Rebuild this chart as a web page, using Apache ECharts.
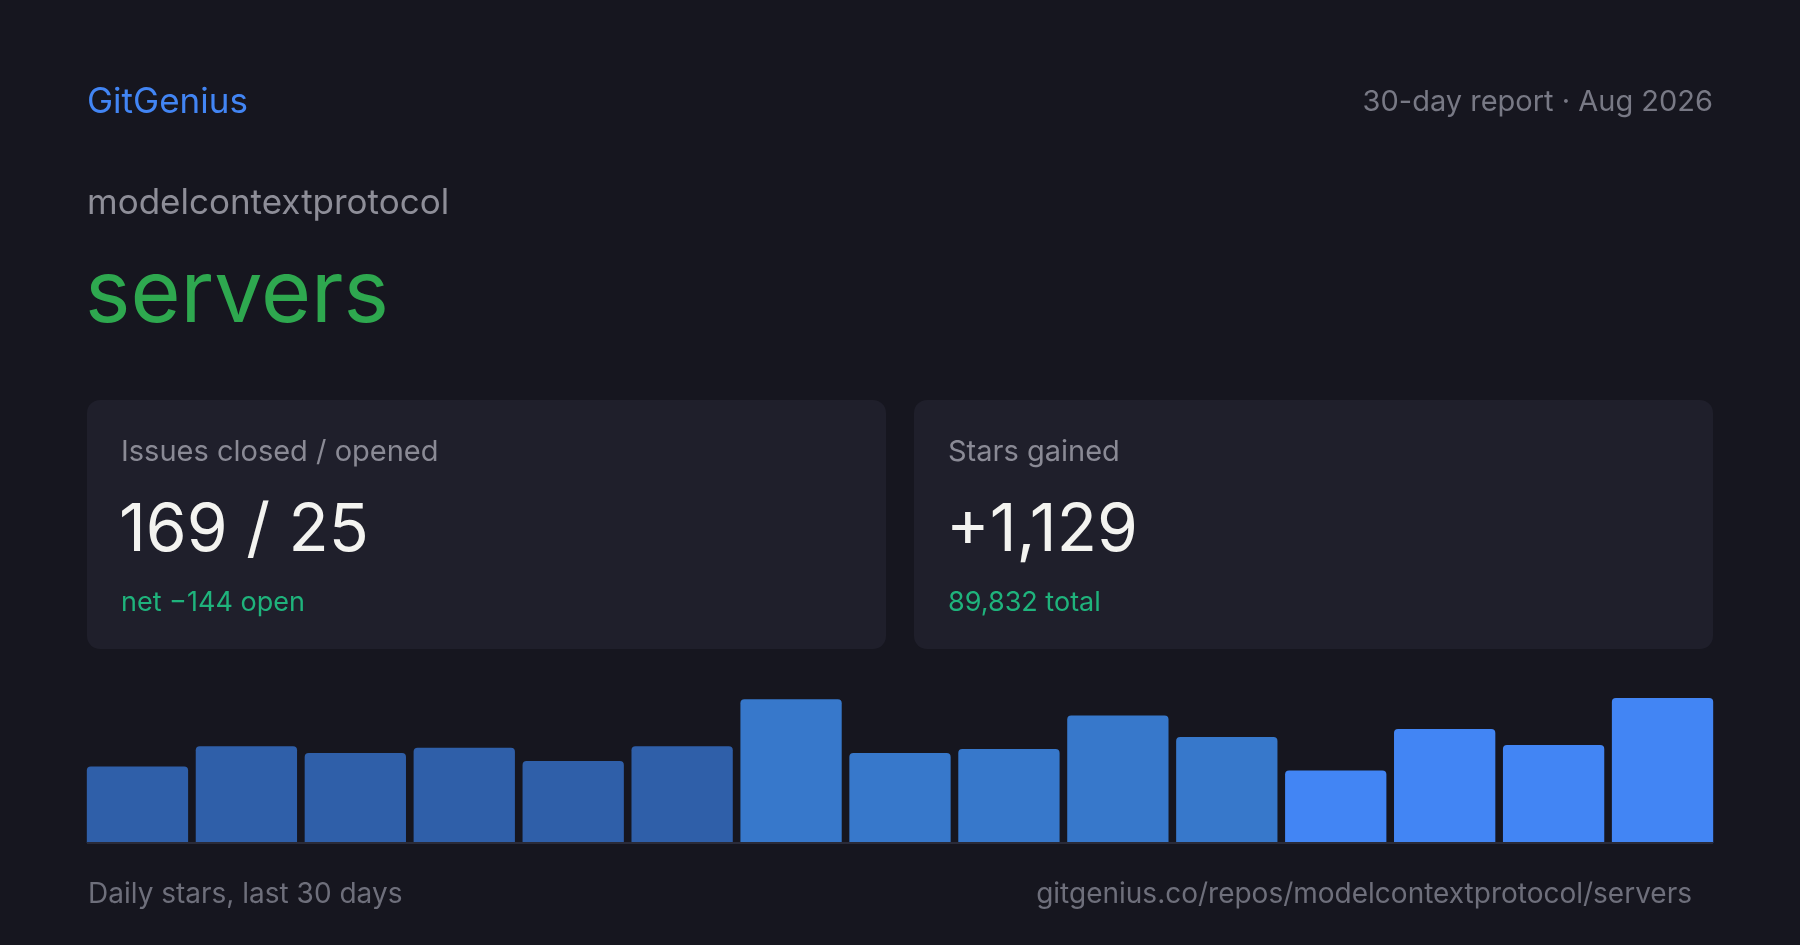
<!DOCTYPE html>
<html>
<head>
<meta charset="utf-8">
<script src="https://cdn.jsdelivr.net/npm/echarts@6/dist/echarts.min.js"></script>
<style>
  html, body { margin: 0; padding: 0; background: #16161f; }
  #chart { width: 1800px; height: 945px; }
</style>
</head>
<body>
<div id="chart"></div>
<script>
// ---- data ----
const categories = ['1','2','3','4','5','6','7','8','9','10','11','12','13','14','15'];
const starValues = [57, 72, 67, 71, 61, 72, 107, 67, 70, 95, 79, 54, 85, 73, 108];
const brandText = 'GitGenius';
const periodText = '30-day report · Aug 2026';
const ownerText = 'modelcontextprotocol';
const repoText = 'servers';
const issuesLabel = 'Issues closed / opened';
const issuesValue = '169 / 25';
const issuesSub = 'net −144 open';
const starsLabel = 'Stars gained';
const starsValue = '+1,129';
const starsSub = '89,832 total';
const footerLeft = 'Daily stars, last 30 days';
const footerRight = 'gitgenius.co/repos/modelcontextprotocol/servers';

// ---- style ----
const FONT = 'Inter, "Noto Sans", sans-serif';
const toneColors = ['#2f5fa9', '#3778cb', '#4285f4'];
function toneFor(i) { return i < 6 ? toneColors[0] : (i < 11 ? toneColors[1] : toneColors[2]); }

const chart = echarts.init(document.getElementById('chart'), null, { renderer: 'canvas' });

function txt(x, y, text, size, color, align, weight) {
  return {
    type: 'text', x: x, y: y,
    style: { text: text, fill: color, fontSize: size, fontFamily: FONT,
             fontWeight: weight || 400, align: align || 'left', verticalAlign: 'middle' }
  };
}
function card(x, y, w, h) {
  return { type: 'rect', shape: { x: x, y: y, width: w, height: h, r: 13 },
           style: { fill: '#1f1f2b' }, z: 0 };
}

chart.setOption({
  backgroundColor: '#16161f',
  animation: false,
  grid: { left: 83, right: 83, top: 698, bottom: 102 },
  xAxis: {
    type: 'category', data: categories,
    axisLine: { show: false },
    axisTick: { show: false }, axisLabel: { show: false }
  },
  yAxis: {
    type: 'value', min: 0, max: Math.max(...starValues),
    show: false, splitLine: { show: false }
  },
  series: [{
    type: 'bar',
    data: starValues.map((v, i) => ({ value: v, itemStyle: { color: toneFor(i) } })),
    barCategoryGap: '7%',
    itemStyle: { borderRadius: [4, 4, 0, 0] },
    z: 2
  }],
  graphic: [
    card(87, 400, 799, 249),
    card(914, 400, 799, 249),
    { type: 'rect', shape: { x: 87, y: 842, width: 1626, height: 2 }, style: { fill: '#2a2b39' }, z: 10 },
    txt(87, 102, brandText, 35, '#4285f4'),
    txt(1713, 102, periodText, 29, '#787985', 'right'),
    txt(87, 203, ownerText, 35, '#8e8e98'),
    txt(85, 296, repoText, 86, '#2ea84f'),
    txt(121, 452, issuesLabel, 29, '#8a8a95'),
    txt(119, 531, issuesValue, 66, '#f3f3f0'),
    txt(121, 603, issuesSub, 27, '#1fb37c'),
    txt(948, 452, starsLabel, 29, '#8a8a95'),
    txt(946, 531, starsValue, 66, '#f3f3f0'),
    txt(948, 603, starsSub, 27, '#1fb37c'),
    txt(88, 895, footerLeft, 28, '#6e6f7b'),
    txt(1692, 895, footerRight, 28, '#6e6f7b', 'right')
  ]
});
</script>
</body>
</html>
